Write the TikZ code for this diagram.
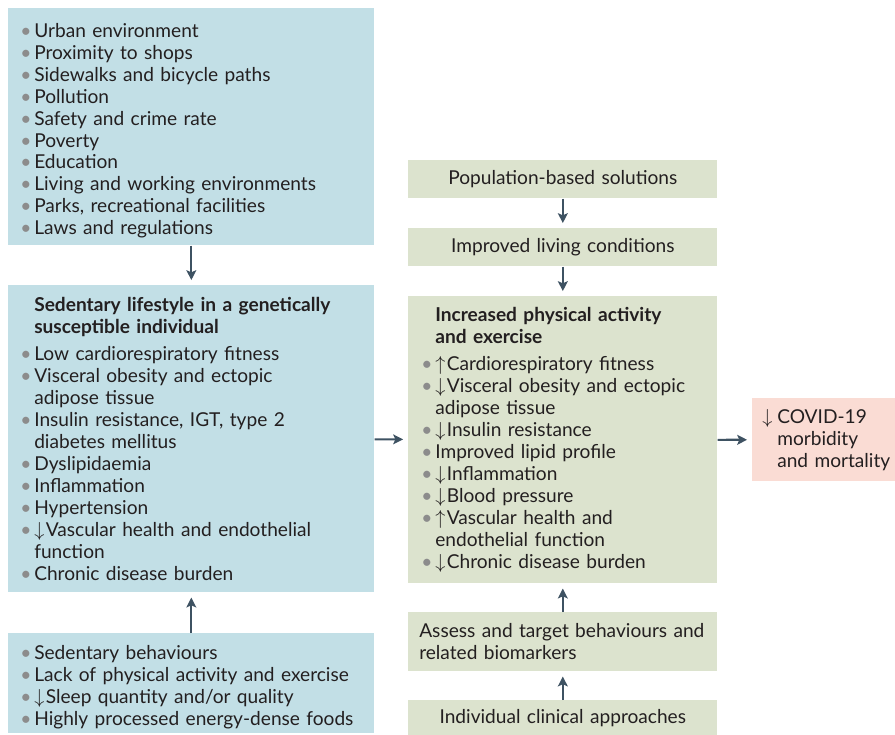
\documentclass[tikz,border=0pt]{standalone}
\usepackage{fontspec}
\setmainfont{Lato}
\usetikzlibrary{arrows.meta}
\definecolor{boxblue}{HTML}{C2DFE6}
\definecolor{boxgreen}{HTML}{DCE3CE}
\definecolor{boxpink}{HTML}{FADCD4}
\definecolor{arrowgrey}{HTML}{3E5262}
\definecolor{dotgrey}{HTML}{8C8C8C}
\definecolor{txtblack}{HTML}{231F20}
% list helpers
\newcommand{\bul}{\par\leavevmode\llap{\makebox[0.35cm][l]{\textcolor{dotgrey}{\textbullet}}}}
\newcommand{\dn}{$\downarrow$\kern1pt}
\newcommand{\up}{$\uparrow$\kern1pt}
\newcommand{\listin}[1]{\setlength{\leftskip}{#1}}
\begin{document}
\begin{tikzpicture}[x=0.025cm, y=-0.025cm,
  box/.style={anchor=north west, inner xsep=0pt, inner ysep=0pt, text=txtblack,
    font=\fontsize{13.6pt}{15.6pt}\selectfont, align=left},
  bluebox/.style={box, fill=boxblue, text width=9.15cm},
  greenbox/.style={box, fill=boxgreen, text width=7.725cm},
  pinkbox/.style={box, fill=boxpink, text width=3.575cm},
  flow/.style={draw=arrowgrey, line width=1.5pt, shorten >=3.5pt,
    -{Stealth[length=7pt, width=7pt, inset=1.5pt]}}]
\useasboundingbox (0,0) rectangle (895,735);

% left column
\node[bluebox, minimum height=5.925cm] (env) at (8,8) {\listin{0.65cm}%
\bul Urban environment
\bul Proximity to shops
\bul Sidewalks and bicycle paths
\bul Pollution
\bul Safety and crime rate
\bul Poverty
\bul Education
\bul Living and working environments
\bul Parks, recreational facilities
\bul Laws and regulations\par};
\node[bluebox, minimum height=7.675cm] (sed) at (8,285) {\listin{0.65cm}%
\textbf{Sedentary lifestyle in a genetically}\\
\textbf{susceptible individual}\par\vspace{4pt}
\bul Low cardiorespiratory fitness
\bul Visceral obesity and ectopic\\ adipose tissue
\bul Insulin resistance, IGT, type 2\\ diabetes mellitus
\bul Dyslipidaemia
\bul Inflammation
\bul Hypertension
\bul \dn Vascular health and endothelial\\ function
\bul Chronic disease burden\par};
\node[bluebox, minimum height=2.5cm] (beh) at (8,633) {\listin{0.65cm}%
\bul Sedentary behaviours
\bul Lack of physical activity and exercise
\bul \dn Sleep quantity and/or quality
\bul Highly processed energy-dense foods\par};

% right column
\node[greenbox, minimum height=0.95cm, align=center] (pop) at (408,160) {Population-based solutions};
\node[greenbox, minimum height=0.95cm, align=center] (liv) at (408,228) {Improved living conditions};
\node[greenbox, minimum height=7.175cm] (inc) at (408,296) {\listin{0.675cm}%
\textbf{Increased physical activity}\\
\textbf{and exercise}\par\vspace{4pt}
\bul \up Cardiorespiratory fitness
\bul \dn Visceral obesity and ectopic\\ adipose tissue
\bul \dn Insulin resistance
\bul Improved lipid profile
\bul \dn Inflammation
\bul \dn Blood pressure
\bul \up Vascular health and\\ endothelial function
\bul \dn Chronic disease burden\par};
\node[greenbox, minimum height=1.475cm] (ass) at (408,612) {\listin{0.275cm}%
Assess and target behaviours and\\ related biomarkers\par};
\node[greenbox, minimum height=0.875cm, align=center] (ind) at (408,700) {Individual clinical approaches};

\node[pinkbox, minimum height=2.075cm] (cov) at (752,398) {\listin{0.625cm}%
\leavevmode\llap{\makebox[0.375cm][l]{$\downarrow$}}COVID-19\\ morbidity\\ and mortality\par};

\draw[flow] (env) -- (sed);
\draw[flow] (beh) -- (sed);
\draw[flow] (sed) -- (inc);
\draw[flow] (inc) -- (cov);
\draw[flow] (pop) -- (liv);
\draw[flow] (liv) -- (inc);
\draw[flow] (ind) -- (ass);
\draw[flow] (ass) -- (inc);
\end{tikzpicture}
\end{document}
